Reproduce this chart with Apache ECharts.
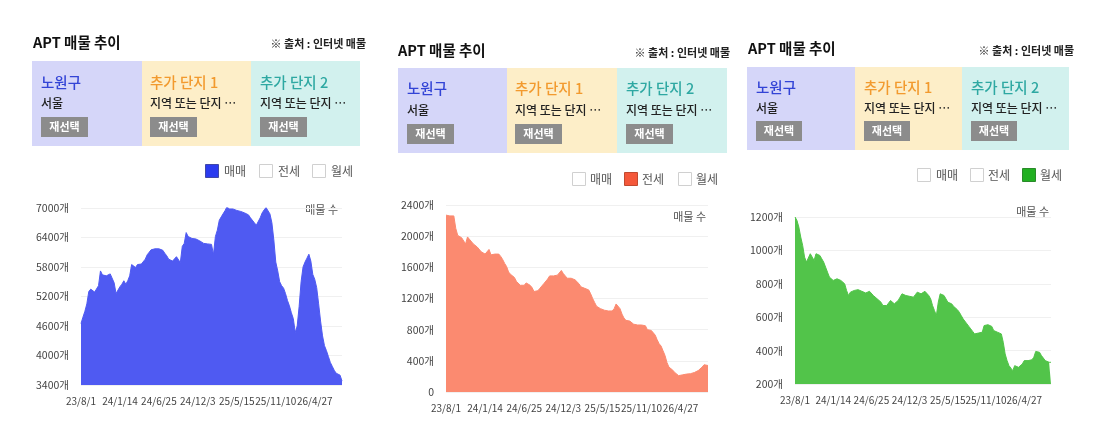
<!DOCTYPE html>
<html>
<head>
<meta charset="utf-8">
<script src="https://cdn.jsdelivr.net/npm/echarts/dist/echarts.min.js"></script>
<style>
html,body{margin:0;padding:0;background:#fff;}
#c{width:1097px;height:437px;}
</style>
</head>
<body>
<div id="c"></div>
<script>
const tickLabels = ['23/8/1','24/1/14','24/6/25','24/12/3','25/5/15','25/11/10','26/4/27'];
const pointCount = 135;
const tickEvery = 20;
const categories = [];
for (let i = 0; i < pointCount; i++) {
  categories.push(i % tickEvery === 0 ? tickLabels[i / tickEvery] : tickLabels[Math.floor(i / tickEvery)] + '+' + (i % tickEvery));
}

const saleValues = [
4650,4780,4900,5050,5300,5350,5340,5290,5260,5420,
5720,5640,5600,5620,5610,5660,5620,5480,5260,5300,
5400,5450,5520,5450,5520,5620,5850,5830,5790,5850,
5880,5860,5900,5960,6050,6100,6150,6160,6170,6150,
6170,6160,6140,6080,6030,5960,5930,5920,5910,6010,
5980,5890,6220,6280,6500,6420,6400,6380,6400,6370,
6350,6330,6300,6280,6250,6270,6300,6260,6050,6420,
6550,6750,6820,6860,6950,7030,6980,6990,6980,6970,
6950,6960,6930,6920,6900,6910,6860,6800,6760,6700,
6650,6640,6800,6900,6960,7010,6970,6880,6700,6350,
5900,5720,5500,5420,5370,5260,5120,5010,4870,4750,
4470,4600,5000,5500,5800,5900,5980,6060,5920,5650,
5550,5380,5050,4700,4400,4200,4100,3980,3860,3780,
3700,3640,3630,3600,3480];

const jeonseValues = [
2270,2250,2260,2250,2260,2100,2010,1990,1980,1960,
1900,1990,1960,1940,1900,1880,1860,1840,1800,1790,
1770,1790,1830,1760,1770,1770,1750,1770,1740,1700,
1650,1610,1540,1510,1510,1470,1420,1400,1370,1390,
1370,1400,1410,1370,1340,1290,1290,1300,1330,1350,
1390,1410,1450,1490,1500,1490,1470,1500,1520,1560,
1520,1490,1460,1450,1460,1450,1440,1420,1390,1350,
1340,1330,1330,1310,1260,1200,1150,1100,1080,1070,
1050,1050,1040,1040,1030,1040,1070,1130,1110,1070,
1000,950,920,930,910,890,870,860,860,850,
860,840,850,800,790,790,770,730,670,620,
590,530,470,380,320,300,280,250,230,210,
205,220,225,230,230,235,245,250,260,275,
290,320,350,365,340];

const monthlyValues = [
1200,1180,1140,1080,1030,960,930,920,980,960,
940,980,970,970,950,930,900,870,840,830,
820,825,830,820,820,810,800,760,730,750,
755,760,750,765,760,755,760,745,750,755,
750,730,720,710,700,690,670,660,670,680,
700,690,680,690,700,720,740,730,730,720,
725,730,720,735,750,745,740,745,755,760,
730,710,670,640,610,690,740,735,730,710,
690,685,680,665,660,645,630,610,590,580,
560,545,530,515,500,500,505,500,510,550,
550,555,550,545,520,515,510,505,500,450,
380,340,310,295,280,310,305,300,305,320,
340,335,340,340,345,360,395,395,390,370,
360,340,335,330,330];

const yMins = [3400, 0, 200];
const yMaxs = [7000, 2400, 1200];
const yIntervals = [600, 400, 200];

const titleText = 'APT 매물 추이';
const sourceText = '※ 출처 : 인터넷 매물';
const colTitles = ['노원구', '추가 단지 1', '추가 단지 2'];
const colSubs = ['서울', '지역 또는 단지 …', '지역 또는 단지 …'];
const buttonText = '재선택';
const legendNames = ['매매', '전세', '월세'];
const axisUnit = '개';
const axisNameText = '매물 수';

const FONT = '"Noto Sans CJK KR", "Noto Sans", sans-serif';
const areaColors = ['#4f5af2', '#fb8a70', '#52c44a'];
const legendColors = ['#2b3bef', '#f4583a', '#22b022'];
const legendBorders = ['#4048a8', '#c04a30', '#2a8a2a'];
const boxColors = ['#d5d6f9', '#fdeec8', '#d2f1ee'];
const colTitleColors = ['#3344d6', '#f29a2e', '#2ea8a2'];

// layout per panel (pixels)
const panels = [
  {tx:33, ty:42, sx:366, sy:44, by0:61, by1:146, bx:[32,142,251,360], tOff:[9,8,9], ty1:82, ty2:103, btY:117, btW:47, btH:20,
   lg:{y:164, boxes:[205,259,312], texts:[224,278,331]}, grid:{l:81,r:342,t:208,b:385}, nm:{x:338,y:210}},
  {tx:398, ty:50, sx:730, sy:53, by0:68, by1:153, bx:[398,507,617,727], tOff:[9,8,9], ty1:88, ty2:110, btY:124, btW:47, btH:20,
   lg:{y:172, boxes:[572,624,678], texts:[590,642,696]}, grid:{l:446,r:708,t:205,b:392}, nm:{x:706,y:217}},
  {tx:748, ty:48, sx:1074, sy:51, by0:67, by1:150, bx:[747,855,962,1069], tOff:[9,9,9], ty1:87, ty2:108, btY:121, btW:46, btH:20,
   lg:{y:168, boxes:[917,970,1022], texts:[936,988,1040]}, grid:{l:795,r:1051,t:217,b:384}, nm:{x:1049,y:212}}
];

function txt(x, y, text, size, color, weight, align) {
  return {type:'text', x:x, y:y, silent:true, style:{text:text, fill:color, fontSize:size, fontWeight:weight||'normal', fontFamily:FONT,
    align:align||'left', verticalAlign:'middle', textAlign:align||'left', textVerticalAlign:'middle'}};
}
function rect(x, y, w, h, fill, stroke) {
  return {type:'rect', silent:true, shape:{x:x, y:y, width:w, height:h}, style:{fill:fill, stroke:stroke||null, lineWidth:stroke?1:0}};
}

const graphics = [];
const grids = [], xAxes = [], yAxes = [], series = [];
const seriesValues = [saleValues, jeonseValues, monthlyValues];

panels.forEach((p, pi) => {
  graphics.push(txt(p.tx, p.ty, titleText, 14.5, '#111', 'bold'));
  graphics.push(txt(p.sx, p.sy, sourceText, 11, '#222', 'bold', 'right'));
  for (let c = 0; c < 3; c++) {
    const x0 = p.bx[c], x1 = p.bx[c+1];
    graphics.push(rect(x0, p.by0, x1 - x0, p.by1 - p.by0, boxColors[c]));
    const lx = x0 + p.tOff[c];
    graphics.push(txt(lx, p.ty1, colTitles[c], 14.5, colTitleColors[c], 500));
    graphics.push(txt(lx, p.ty2, colSubs[c], 12, '#222', 500));
    graphics.push(rect(lx, p.btY, p.btW, p.btH, '#8c8c8c'));
    graphics.push(txt(lx + p.btW / 2, p.btY + p.btH / 2, buttonText, 11, '#fff', 'bold', 'center'));
  }
  for (let k = 0; k < 3; k++) {
    const on = k === pi;
    graphics.push(rect(p.lg.boxes[k] + 0.5, p.lg.y + 0.5, 13, 13, on ? legendColors[pi] : '#fff', on ? legendBorders[pi] : '#d0d0d0'));
    graphics.push(txt(p.lg.texts[k], p.lg.y + 7, legendNames[k], 12, '#555', 'normal'));
  }
  graphics.push(txt(p.nm.x, p.nm.y, axisNameText, 11, '#555', 'normal', 'right'));

  grids.push({left:p.grid.l, width:p.grid.r - p.grid.l, top:p.grid.t, height:p.grid.b - p.grid.t, containLabel:false});
  xAxes.push({type:'category', gridIndex:pi, data:categories, boundaryGap:false,
    axisLine:{show:false}, axisTick:{show:false},
    axisLabel:{interval:(idx) => idx % tickEvery === 0 || idx === pointCount - 1,
      formatter:(value, idx) => idx % tickEvery === 0 ? value : '',
      hideOverlap:false, showMaxLabel:true, showMinLabel:true,
      color:'#444', fontSize:10, fontFamily:FONT, margin:11}});
  yAxes.push({type:'value', gridIndex:pi, min:yMins[pi], max:yMaxs[pi], interval:yIntervals[pi],
    axisLine:{show:false}, axisTick:{show:false},
    splitLine:{lineStyle:{color:'#f0f0f0', width:1}},
    axisLabel:{color:'#444', fontSize:10.5, fontFamily:FONT, margin:12,
      formatter: v => v === 0 ? '0' : v + axisUnit}});
  series.push({type:'line', xAxisIndex:pi, yAxisIndex:pi, data:seriesValues[pi], symbol:'none', silent:true,
    lineStyle:{color:areaColors[pi], width:1}, areaStyle:{color:areaColors[pi], opacity:1}, animation:false});
});

const chart = echarts.init(document.getElementById('c'), null, {renderer:'canvas'});
chart.setOption({
  animation:false,
  textStyle:{fontFamily:FONT},
  grid:grids, xAxis:xAxes, yAxis:yAxes, series:series,
  graphic:{elements:graphics}
});
</script>
</body>
</html>
